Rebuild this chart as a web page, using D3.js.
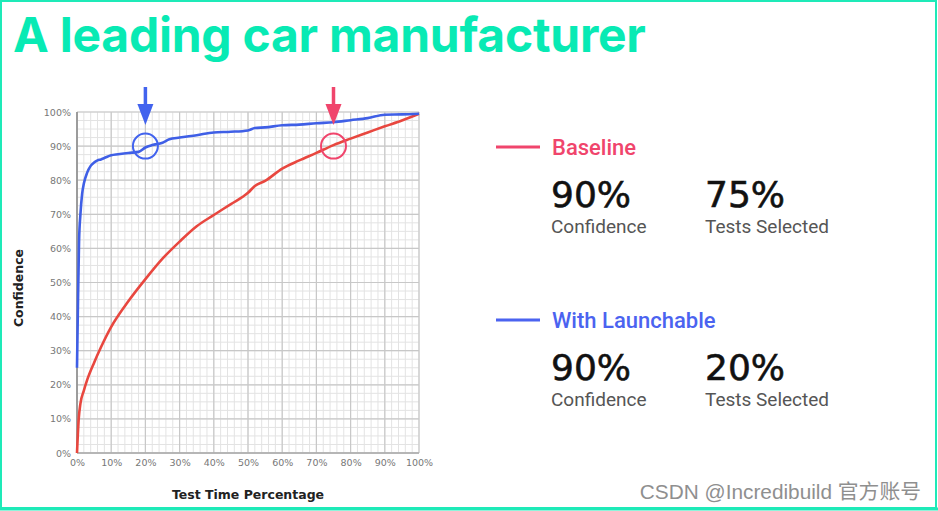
<!DOCTYPE html>
<html>
<head>
<meta charset="utf-8">
<script src="https://cdn.jsdelivr.net/npm/d3@7"></script>
<style>
html,body{margin:0;padding:0;background:#fff;}
svg{display:block;}
</style>
</head>
<body>
<svg id="chart" width="938" height="511"></svg>
<script>
// ---- data ----
const title = "A leading car manufacturer";
const xTicks = [0,10,20,30,40,50,60,70,80,90,100];
const yTicks = [0,10,20,30,40,50,60,70,80,90,100];
const baselineX = [0,0.5,1,2,3,5,7,10,15,20,25,30,35,40,45,50,52,55,60,65,70,75,80,85,90,95,100];
const baselineY = [0,10,14.5,18.3,21.5,26.5,31,37,44.5,51,57,62,66.5,69.8,73,76.3,78.3,79.8,83.4,85.8,88,90.3,92.2,94,95.8,97.5,99.5];
const launchX = [0,0.3,0.6,1,1.5,2,3,4,5,6,7,8,10,12,15,18,20,22,25,27,30,35,40,45,50,52,55,60,65,70,75,80,85,90,95,100];
const launchY = [25,45,62,70,76,79,82.3,84.2,85.2,85.8,86.1,86.5,87.3,87.6,88,88.3,89.6,90.3,91,92,92.5,93.2,94,94.2,94.6,95.3,95.5,96.1,96.3,96.7,97,97.6,98.2,99.2,99.3,99.5];
const highlights = [ {series:"With Launchable", x:20, y:90}, {series:"Baseline", x:75, y:90} ];
const legendSeries = ["Baseline","With Launchable"];
const statConfidence = ["90%","90%"];
const statSelected = ["75%","20%"];
const statLabels = ["Confidence","Tests Selected"];

// ---- styles ----
const teal = "#1eeab8";
const chartRed = "#e8473f";
const chartBlue = "#3f5fe6";
const legendColors = {"Baseline":"#f0456c","With Launchable":"#4b63f0"};
const markColors = {"Baseline":"#f0456c","With Launchable":"#4263ee"};

const svg = d3.select("#chart");

// frame
svg.append("rect").attr("x",1).attr("y",1).attr("width",935).attr("height",507)
  .attr("fill","none").attr("stroke",teal).attr("stroke-width",2);
svg.append("line").attr("x1",0).attr("x2",938).attr("y1",509).attr("y2",509).attr("stroke",teal).attr("stroke-width",3);

// title
svg.append("text").attr("x",13).attr("y",52).text(title)
  .attr("font-family","Inter, Lato, sans-serif").attr("font-weight",700)
  .attr("font-size",48).attr("fill","#08eab4").attr("letter-spacing",-0.25);

// plot
const L=77,R=419,T=112,B=453;
const x = d3.scaleLinear().domain([0,100]).range([L,R]);
const y = d3.scaleLinear().domain([0,100]).range([B,T]);
const g = svg.append("g");

// minor grid
g.append("g").selectAll("line").data(d3.range(0,100.01,2)).join("line")
  .attr("x1",d=>x(d)).attr("x2",d=>x(d)).attr("y1",T).attr("y2",B)
  .attr("stroke","#e3e3e3").attr("stroke-width",1);
g.append("g").selectAll("line").data(d3.range(0,100.01,2.5)).join("line")
  .attr("y1",d=>y(d)).attr("y2",d=>y(d)).attr("x1",L).attr("x2",R)
  .attr("stroke","#e3e3e3").attr("stroke-width",1);
// major grid
g.append("g").selectAll("line").data(xTicks).join("line")
  .attr("x1",d=>x(d)).attr("x2",d=>x(d)).attr("y1",T).attr("y2",B)
  .attr("stroke","#c8c8c8").attr("stroke-width",1.2);
g.append("g").selectAll("line").data(yTicks).join("line")
  .attr("y1",d=>y(d)).attr("y2",d=>y(d)).attr("x1",L).attr("x2",R)
  .attr("stroke","#c8c8c8").attr("stroke-width",1.2);
// axis lines
g.append("line").attr("x1",L).attr("x2",L).attr("y1",T).attr("y2",B).attr("stroke","#888").attr("stroke-width",1.5);
g.append("line").attr("x1",L).attr("x2",R).attr("y1",B).attr("y2",B).attr("stroke","#aaa").attr("stroke-width",1.5);

// axes (labels only)
const xAxis = d3.axisBottom(x).tickValues(xTicks).tickFormat(d=>d+"%").tickSize(0).tickPadding(6);
const yAxis = d3.axisLeft(y).tickValues(yTicks).tickFormat(d=>d+"%").tickSize(0).tickPadding(6);
const xa = svg.append("g").attr("transform",`translate(0,${B})`).call(xAxis);
const ya = svg.append("g").attr("transform",`translate(${L},0)`).call(yAxis);
[xa,ya].forEach(a=>{
  a.select(".domain").remove();
  a.selectAll("text").attr("font-family","DejaVu Sans, sans-serif").attr("font-size",9.5).attr("fill","#777");
});

// axis titles
svg.append("text").attr("x",248).attr("y",499).attr("text-anchor","middle").text("Test Time Percentage")
  .attr("font-family","DejaVu Sans, sans-serif").attr("font-weight",700).attr("font-size",12.5).attr("fill","#222");
svg.append("text").attr("transform","translate(23,288) rotate(-90)").attr("text-anchor","middle").text("Confidence")
  .attr("font-family","DejaVu Sans, sans-serif").attr("font-weight",700).attr("font-size",12.5).attr("fill","#222");

// lines
const line = d3.line().x(d=>x(d[0])).y(d=>y(d[1])).curve(d3.curveMonotoneX);
svg.append("path").datum(d3.zip(baselineX,baselineY)).attr("d",line)
  .attr("fill","none").attr("stroke",chartRed).attr("stroke-width",2.6).attr("stroke-linejoin","round");
svg.append("path").datum(d3.zip(launchX,launchY)).attr("d",line)
  .attr("fill","none").attr("stroke",chartBlue).attr("stroke-width",2.6).attr("stroke-linejoin","round");

// highlight circles and arrows
highlights.forEach(h=>{
  const c = markColors[h.series];
  const cx = x(h.x), cy = y(h.y);
  svg.append("circle").attr("cx",cx).attr("cy",cy).attr("r",12.5)
    .attr("fill","none").attr("stroke",c).attr("stroke-width",2);
  svg.append("line").attr("x1",cx).attr("x2",cx).attr("y1",87).attr("y2",106)
    .attr("stroke",c).attr("stroke-width",3.5);
  svg.append("path").attr("d",`M${cx-8},${104} L${cx+8},${104} L${cx},${125} Z`).attr("fill",c);
});

// legend / stats
const legY = [147,320];
legendSeries.forEach((s,i)=>{
  const ly = legY[i];
  svg.append("line").attr("x1",496).attr("x2",540).attr("y1",ly).attr("y2",ly)
    .attr("stroke",legendColors[s]).attr("stroke-width",3);
  svg.append("text").attr("x",552).attr("y",ly+8).text(s)
    .attr("font-family","Roboto, sans-serif").attr("font-weight",500).attr("font-size",22).attr("fill",legendColors[s]);
  const vals = [statConfidence[i], statSelected[i]];
  [551,705].forEach((sx,j)=>{
    svg.append("text").attr("x",sx).attr("y",ly+60).text(vals[j])
      .attr("font-family","DejaVu Sans, sans-serif").attr("font-size",36).attr("fill","#111")
      .attr("stroke","#111").attr("stroke-width",0.6);
    svg.append("text").attr("x",sx).attr("y",ly+86).text(statLabels[j])
      .attr("font-family","Roboto, sans-serif").attr("font-size",19).attr("fill","#555");
  });
});

// watermark
svg.append("text").attr("x",921).attr("y",499).attr("text-anchor","end").text("CSDN @Incredibuild 官方账号")
  .attr("font-family","Liberation Sans, Noto Sans CJK SC, sans-serif").attr("font-size",20.8).attr("fill","#8f8f8f");
</script>
</body>
</html>
